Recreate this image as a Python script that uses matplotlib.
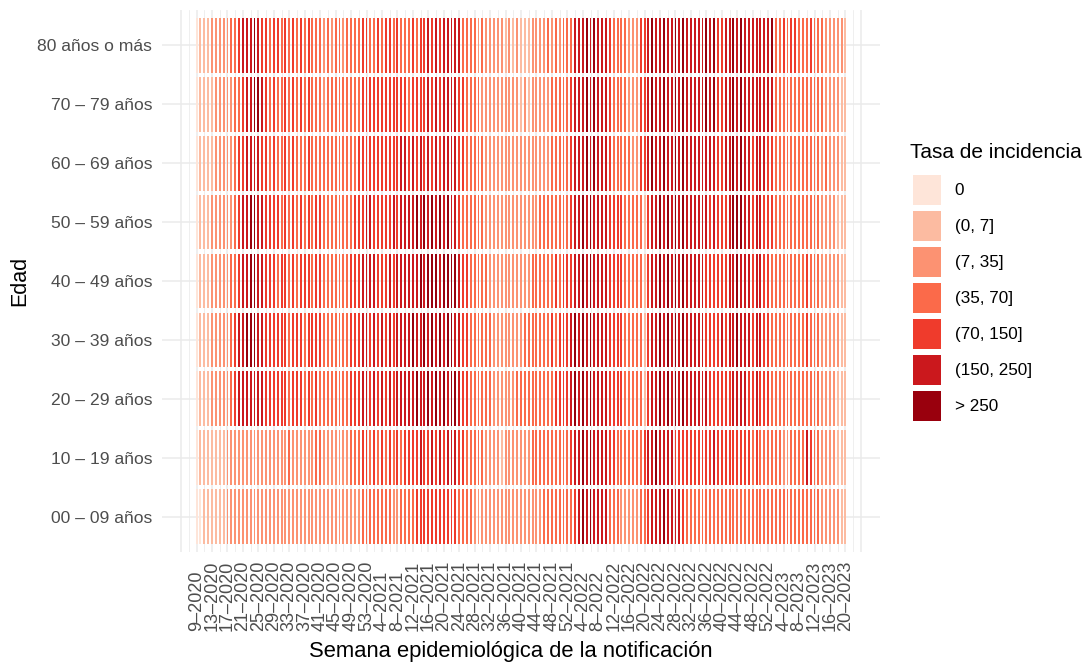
import matplotlib
matplotlib.use("Agg")
import matplotlib.pyplot as plt
from matplotlib.patches import Patch
import numpy as np

plt.rcParams["font.family"] = ["Liberation Sans", "DejaVu Sans"]

# age groups, bottom to top
edades = ["00 – 09 años", "10 – 19 años", "20 – 29 años", "30 – 39 años",
          "40 – 49 años", "50 – 59 años", "60 – 69 años", "70 – 79 años",
          "80 años o más"]

# epidemiological weeks shown (year, first week, last week)
anios = [(2020, 9, 53), (2021, 1, 52), (2022, 1, 52), (2023, 1, 20)]

categorias = ["0", "(0, 7]", "(7, 35]", "(35, 70]", "(70, 150]", "(150, 250]", "> 250"]
colores = ["#fee5d9", "#fcbba1", "#fc9272", "#fb6a4a", "#ef3b2c", "#cb181d", "#99000d"]

# incidence category per week (one digit = index in categorias)
r00 = ("0011111122" "2222222222" "2222222222" "222"
       "2222222222" "3333333322" "3333444444" "444"
       "4433332222" "2222222222" "2222333333" "334"
       "5656555533" "3222223345" "5565555433" "333"
       "3333333333" "3333333333" "3333333333" "2222211")
r10 = ("0111111122" "2222222222" "2222322222" "233"
       "2222222333" "4434343434" "3444454454" "545"
       "5544333332" "2221222222" "2333333333" "345"
       "5656555544" "3333333455" "6555544444" "444"
       "4454444444" "4434333333" "2233335433" "2222111")
r20 = ("0111222223" "4555555544" "4444344434" "343"
       "3333333444" "5545454545" "5555655656" "565"
       "6654433333" "3222222333" "3333333444" "456"
       "5656555544" "4433333145" "5656565655" "555"
       "5444444555" "5445444333" "3333333333" "2222111")
r30 = ("0111222223" "4556665544" "4444344434" "444"
       "3333333444" "5545454545" "5556556565" "656"
       "6554433333" "3222222223" "3333334344" "456"
       "5656555544" "4433333145" "5656565655" "555"
       "4444545565" "5545544333" "3333334333" "2222211")
r40 = ("0111222223" "3455665544" "4344343444" "344"
       "3333333444" "5555444545" "5555565666" "566"
       "6654433333" "2222222222" "2333333434" "445"
       "5656555544" "4433333145" "5656565655" "555"
       "4444445565" "5545544333" "3333334333" "2222211")
r50 = ("0111222222" "3455665544" "4434343434" "344"
       "3333333344" "4554444454" "5555656565" "656"
       "5543333332" "2222222222" "2223333333" "345"
       "5656555544" "4433333145" "5656565655" "555"
       "5454445666" "5545544433" "3333333333" "2222111")
r60 = ("0111122222" "3445555443" "4334343334" "333"
       "3333333334" "4444444444" "5545454545" "455"
       "5544333332" "2222222222" "2222223333" "345"
       "5565655543" "3333224456" "5565565655" "555"
       "5554455656" "5545554433" "3333333333" "2322211")
r70 = ("0111122222" "3345566543" "4334343434" "333"
       "2333333333" "4444444444" "4434444545" "455"
       "5544333322" "2222222212" "1222223333" "345"
       "5565655543" "3332224456" "5565565655" "555"
       "6564455656" "5555555533" "3333333333" "3222211")
r80 = ("0111222223" "3455565443" "4434343434" "333"
       "2323323333" "4433434434" "3334344545" "455"
       "5553333232" "2222121211" "1222232323" "335"
       "5565655543" "3332224456" "5565565655" "555"
       "6564455656" "5555555633" "4344333433" "3222221")

filas = [r00, r10, r20, r30, r40, r50, r60, r70, r80]

semanas = []
for anio, w0, w1 in anios:
    for w in range(w0, w1 + 1):
        semanas.append("%d–%d" % (w, anio))
n = len(semanas)
for f in filas:
    assert len(f) == n, (len(f), n)

fig = plt.figure(figsize=(10.89, 6.67), dpi=100)
ax = fig.add_axes([162 / 1089, 1 - 552 / 667, 718 / 1089, 542 / 667])

x = np.arange(n)
for i, f in enumerate(filas):
    cols = [colores[int(c)] for c in f]
    ax.bar(x, 0.93, bottom=i - 0.465, width=0.5, color=cols, linewidth=0)

ax.set_xlim(-8.95, n - 1 + 8.95)
ax.set_ylim(-0.6, len(edades) - 0.4)

mayores = np.arange(-4, n + 4, 4)
ax.set_xticks(mayores)
ax.set_xticklabels([semanas[k] if 0 <= k < n else "" for k in mayores],
                   rotation=90, fontsize=13, color="#4d4d4d", va="bottom")
ax.set_xticks(np.arange(-2, n + 2, 4), minor=True)
ax.set_yticks(range(len(edades)))
ax.set_yticklabels(edades, fontsize=12.6, color="#4d4d4d")
ax.tick_params(axis="both", which="both", length=0)
ax.tick_params(axis="x", pad=57)
ax.tick_params(axis="y", pad=7)

ax.grid(True, which="major", color="#ebebeb", linewidth=1.1)
ax.grid(True, which="minor", axis="x", color="#ebebeb", linewidth=0.55)
ax.set_axisbelow(True)
for s in ax.spines.values():
    s.set_visible(False)

ax.set_xlabel("Semana epidemiológica de la notificación", fontsize=15.8, va="center")
ax.xaxis.set_label_coords((511 - 162) / 718, -(651 - 552) / 542)
ax.set_ylabel("Edad", fontsize=15.5, va="center")
ax.yaxis.set_label_coords((20 - 162) / 718, (552 - 281) / 542)

fig.text(910 / 1089, 1 - 152 / 667, "Tasa de incidencia", fontsize=15,
         ha="left", va="center")
handles = [Patch(facecolor=c, edgecolor="none") for c in colores]
leg = ax.legend(handles, categorias,
                loc="upper left", bbox_to_anchor=(913 / 1089, 1 - 175 / 667),
                bbox_transform=fig.transFigure, frameon=False, fontsize=12.3,
                handlelength=1.65, handleheight=2.3,
                labelspacing=0.37, handletextpad=0.8, borderpad=0,
                borderaxespad=0)

fig.savefig("out.png", dpi=100)
